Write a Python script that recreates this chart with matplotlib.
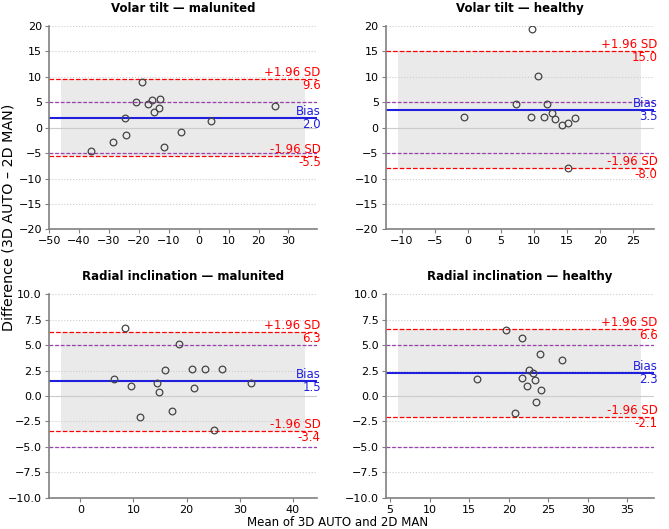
import numpy as np
import matplotlib
matplotlib.use("Agg")
import matplotlib.pyplot as plt
from matplotlib.ticker import MultipleLocator

# -----------------------------------------
# Data (mean, difference)
# -----------------------------------------
titles = ["Volar tilt \u2014 malunited", "Volar tilt \u2014 healthy",
          "Radial inclination \u2014 malunited", "Radial inclination \u2014 healthy"]

vt_mal_mean = [-36.0, -28.6, -24.7, -24.4, -21.0, -18.8, -17.1, -15.6, -14.8, -13.4, -13.0, -11.5, -6.0, 4.05, 25.4]
vt_mal_diff = [-4.58, -2.88, 1.9, -1.5, 5.04, 9.04, 4.7, 5.37, 3.0, 3.93, 5.7, -3.8, -0.92, 1.31, 4.26]

vt_hea_mean = [-0.56, 7.32, 9.6, 9.8, 10.66, 11.5, 11.97, 12.83, 13.28, 14.34, 15.2, 15.25, 16.3]
vt_hea_diff = [2.16, 4.58, 2.16, 19.3, 10.07, 2.03, 4.64, 2.88, 1.63, 0.59, 0.98, -7.97, 1.9]

ri_mal_mean = [6.38, 8.38, 9.5, 11.3, 14.5, 14.75, 15.94, 17.25, 18.56, 20.94, 21.3, 23.5, 25.1, 26.7, 32.2]
ri_mal_diff = [1.69, 6.68, 0.98, -2.08, 1.27, 0.39, 2.51, -1.5, 5.08, 2.67, 0.78, 2.67, -3.32, 2.61, 1.27]

ri_hea_mean = [15.97, 19.7, 20.76, 21.68, 21.72, 22.27, 22.6, 23.07, 23.32, 23.4, 23.9, 24.1, 26.8]
ri_hea_diff = [1.69, 6.45, -1.63, 5.67, 1.76, 0.98, 2.57, 2.25, 1.6, -0.62, 4.17, 0.62, 3.49]

# bias and limits of agreement as printed on the chart
bias = [2.0, 3.5, 1.5, 2.3]
loa_upper = [9.6, 15.0, 6.3, 6.6]
loa_lower = [-5.5, -8.0, -3.4, -2.1]

threshold = 5
ylims = [(-20, 20), (-20, 20), (-10, 10), (-10, 10)]
xsteps = [10, 5, 10, 5]

means = [vt_mal_mean, vt_hea_mean, ri_mal_mean, ri_hea_mean]
diffs = [vt_mal_diff, vt_hea_diff, ri_mal_diff, ri_hea_diff]

# -----------------------------------------
# Plot
# -----------------------------------------
fig, axes = plt.subplots(2, 2, figsize=(6.69, 5.29), dpi=100)
fig.subplots_adjust(left=0.073, right=0.977, top=0.951, bottom=0.059,
                    wspace=0.257, hspace=0.318)

for i, ax in enumerate(axes.flat):
    x = np.array(means[i])
    y = np.array(diffs[i])
    lo, hi = loa_lower[i], loa_upper[i]

    # shaded agreement band, a bit wider than the data
    xb = [x.min() - 10, x.max() + 10]
    ax.fill_between(xb, lo, hi, color="#d9d9d9", alpha=0.55, lw=0, zorder=0)

    ax.axhline(0, color="#cccccc", lw=0.8, zorder=1)
    ax.axhline(threshold, color="#9b3fb0", lw=0.9, ls=(0, (3, 1.5)), zorder=1)
    ax.axhline(-threshold, color="#9b3fb0", lw=0.9, ls=(0, (3, 1.5)), zorder=1)
    ax.axhline(hi, color="red", lw=0.9, ls="--", zorder=2)
    ax.axhline(lo, color="red", lw=0.9, ls="--", zorder=2)
    ax.axhline(bias[i], color="#1f1fdd", lw=1.5, zorder=2)

    ax.plot(x, y, "o", ms=4.8, mfc="none", mec="#444444", mew=0.9, zorder=3)

    ax.set_ylim(*ylims[i])
    ax.xaxis.set_major_locator(MultipleLocator(xsteps[i]))
    ax.set_title(titles[i], fontsize=8.5, fontweight="bold", pad=10)
    ax.yaxis.grid(True, ls=":", color="#cccccc", lw=0.8)
    ax.set_axisbelow(True)
    for s in ["top", "right"]:
        ax.spines[s].set_visible(False)
    for s in ["left", "bottom"]:
        ax.spines[s].set_color("#808080")
        ax.spines[s].set_linewidth(1.2)
    ax.tick_params(labelsize=8, color="#808080", length=3, pad=2)

    tr = ax.get_yaxis_transform()
    kw = dict(transform=tr, ha="right", fontsize=8.5)
    ax.text(1.015, hi, "+1.96 SD", va="bottom", color="red", **kw)
    ax.text(1.015, hi, f"{hi:.1f}", va="top", color="red", **kw)
    ax.text(1.015, bias[i], "Bias", va="bottom", color="#1f1fdd", **kw)
    ax.text(1.015, bias[i], f"{bias[i]:.1f}", va="top", color="#1f1fdd", **kw)
    ax.text(1.015, lo, "-1.96 SD", va="bottom", color="red", **kw)
    ax.text(1.015, lo, f"{lo:.1f}", va="top", color="red", **kw)

fig.text(0.505, 0.012, "Mean of 3D AUTO and 2D MAN", ha="center", va="center", fontsize=8.5)
fig.text(0.013, 0.59, "Difference (3D AUTO \u2013 2D MAN)", ha="center", va="center",
         rotation=90, fontsize=10.3)

fig.savefig("out.png", dpi=100)
